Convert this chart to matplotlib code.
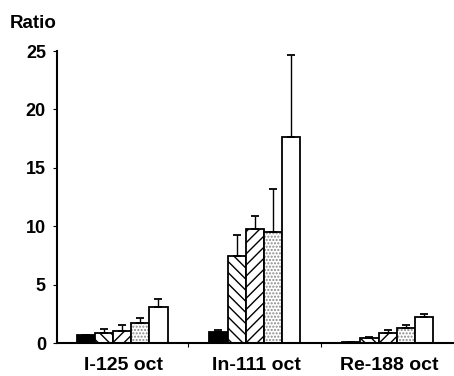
import matplotlib.pyplot as plt
import numpy as np

plt.rcParams['font.family'] = ['Liberation Sans', 'DejaVu Sans']
plt.rcParams['hatch.linewidth'] = 1.0

groups = ['I-125 oct', 'In-111 oct', 'Re-188 oct']
# one list per bar style, values for the three groups
black_vals = [0.65, 0.95, 0.12]
back_vals = [0.85, 7.45, 0.4]
fwd_vals = [1.0, 9.8, 0.85]
dot_vals = [1.75, 9.5, 1.3]
white_vals = [3.05, 17.6, 2.2]

black_err = [0.0, 0.15, 0.0]
back_err = [0.35, 1.8, 0.1]
fwd_err = [0.5, 1.1, 0.3]
dot_err = [0.35, 3.65, 0.25]
white_err = [0.7, 7.1, 0.3]

series = [
    (black_vals, black_err, 'black', None),
    (back_vals, back_err, 'white', '\\\\\\'),
    (fwd_vals, fwd_err, 'white', '///'),
    (dot_vals, dot_err, 'white', '.....'),
    (white_vals, white_err, 'white', None),
]

fig = plt.figure(figsize=(4.54, 3.76), dpi=100)
ax = fig.add_axes([57 / 454, 33 / 376, 397 / 454, 292 / 376])

x = np.arange(len(groups))
w = 0.137
for i, (vals, err, fc, hatch) in enumerate(series):
    pos = x + (i - 2) * w
    if hatch == '.....':
        # grey stipple, then a black outline on top
        ax.bar(pos, vals, width=w, color=fc, edgecolor='#888888', hatch=hatch,
               linewidth=0, zorder=2)
        ax.bar(pos, vals, width=w, fill=False, edgecolor='black',
               linewidth=1.3, zorder=2)
    else:
        ax.bar(pos, vals, width=w, color=fc, edgecolor='black', hatch=hatch,
               linewidth=1.3, zorder=2)
    ax.errorbar(pos, vals, yerr=[np.zeros(3), err], fmt='none', ecolor='black',
                elinewidth=1.0, capsize=3, capthick=1.3, zorder=3)

ax.set_xlim(-0.49, 2.5)
ax.set_ylim(0, 25)
ax.set_yticks([0, 5, 10, 15, 20, 25])
ax.set_yticklabels(['0', '5', '10', '15', '20', '25'], fontsize=13, fontweight='bold')
ax.set_xticks([0.5, 1.5])
ax.set_xticklabels([])
ax.tick_params(axis='x', length=3, direction='out')
ax.tick_params(axis='y', length=3, direction='out', pad=5)
for gx, name in zip(x, groups):
    ax.text(gx + 0.01, -2.3, name, ha='center', va='baseline', fontsize=14,
            fontweight='bold', transform=ax.transData)

ax.spines['top'].set_visible(False)
ax.spines['right'].set_visible(False)
ax.spines['left'].set_linewidth(1.5)
ax.spines['bottom'].set_linewidth(1.5)

fig.text(10 / 454, 1 - 28 / 376, 'Ratio', fontsize=13.5, fontweight='bold',
         ha='left', va='baseline')

fig.savefig('out.png', dpi=100)
